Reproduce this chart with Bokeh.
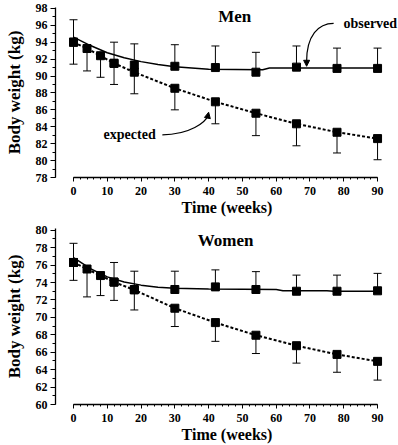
from bokeh.plotting import figure
from bokeh.layouts import column
from bokeh.models import Range1d, SingleIntervalTicker, Label, Arrow, NormalHead
from bokeh.embed import file_html
from bokeh.resources import INLINE

FONT = "Liberation Serif"

# ---------------- data ----------------
weeks_obs = [0, 12, 18, 30, 42, 54, 66, 78, 90]
weeks_exp = [0, 4, 8, 12, 18, 30, 42, 54, 66, 78, 90]

# Men
men_obs = [94.0, 91.5, 91.3, 91.15, 91.0, 90.45, 91.05, 90.9, 90.9]
men_obs_upper = [96.65, 94.0, 93.8, 93.7, 93.55, 92.8, 93.55, 93.3, 93.3]
men_exp = [94.0, 93.25, 92.4, 91.5, 90.45, 88.55, 86.95, 85.6, 84.35, 83.35, 82.6]
men_exp_lower = [91.4, 90.6, 89.85, 89.0, 87.9, 86.0, 84.35, 82.95, 81.75, 80.9, 80.1]
men_fit_weeks = [0, 5, 10, 15, 20, 25, 30, 35, 40, 56, 58, 90]
men_fit = [94.6, 93.6, 92.75, 92.15, 91.7, 91.35, 91.1, 90.95, 90.8, 90.75, 90.95, 90.95]

# Women
women_obs = [76.3, 74.05, 73.2, 73.2, 73.5, 73.2, 73.0, 73.0, 73.05]
women_obs_upper = [78.5, 76.3, 75.3, 75.3, 75.45, 75.25, 74.85, 74.85, 75.05]
women_exp = [76.3, 75.55, 74.8, 74.05, 73.15, 71.05, 69.4, 67.95, 66.75, 65.75, 64.95]
women_exp_lower = [74.25, 72.35, 72.5, 71.95, 70.85, 68.95, 67.25, 65.85, 64.75, 63.7, 62.8]
women_fit_weeks = [0, 5, 10, 15, 20, 25, 30, 40, 60, 62, 75, 77, 90]
women_fit = [76.85, 75.6, 74.65, 74.05, 73.7, 73.45, 73.35, 73.25, 73.2, 73.05, 73.05, 73.0, 73.0]

x_label = "Time (weeks)"
y_label = "Body weight (kg)"


def panel(title, y_lo, y_hi, height, border_top, border_bottom, fit_w, fit_v,
          obs_v, obs_up, exp_v, exp_lo, title_x, title_y):
    p = figure(width=398, height=height, output_backend="svg", toolbar_location=None,
               x_range=Range1d(-5.33, 96.2), y_range=Range1d(y_lo, y_hi),
               min_border_left=55, min_border_right=0,
               min_border_top=border_top, min_border_bottom=border_bottom)
    p.grid.visible = False
    p.outline_line_color = None
    p.background_fill_color = "white"
    p.border_fill_color = "white"

    # axes
    p.xaxis.ticker = SingleIntervalTicker(interval=10, num_minor_ticks=5)
    p.xaxis.bounds = (0, 90)
    p.yaxis.ticker = SingleIntervalTicker(interval=2, num_minor_ticks=2)
    for ax in (p.xaxis, p.yaxis):
        ax.axis_line_color = "black"
        ax.axis_line_width = 1.3
        ax.major_tick_line_color = "black"
        ax.minor_tick_line_color = "black"
        ax.major_tick_in = 0
        ax.minor_tick_in = 0
        ax.major_label_text_font = FONT
        ax.major_label_text_font_style = "bold"
        ax.major_label_text_font_size = "12px"
        ax.major_label_text_color = "black"
        ax.axis_label_text_font = FONT
        ax.axis_label_text_font_style = "bold"
        ax.axis_label_text_color = "black"
    p.xaxis.major_tick_out = 4
    p.xaxis.minor_tick_out = 2
    p.yaxis.major_tick_out = 5
    p.yaxis.minor_tick_out = 3
    p.xaxis.major_label_standoff = 5
    p.yaxis.major_label_standoff = 3
    p.xaxis.axis_label = x_label
    p.yaxis.axis_label = y_label
    p.xaxis.axis_label_text_font_size = "16px"
    p.yaxis.axis_label_text_font_size = "17px"
    p.xaxis.axis_label_standoff = 1
    p.yaxis.axis_label_standoff = 9

    # fitted (observed) solid curve
    p.line(fit_w, fit_v, line_color="black", line_width=1.5)
    # expected dotted curve
    p.line(weeks_exp, exp_v, line_color="black", line_width=2, line_dash="3 2")

    # error bars: observed upwards, expected downwards
    p.segment(weeks_obs, obs_v, weeks_obs, obs_up, line_color="black", line_width=1)
    p.scatter(weeks_obs, obs_up, marker="dash", size=8, line_color="black", line_width=1)
    p.segment(weeks_exp, exp_v, weeks_exp, exp_lo, line_color="black", line_width=1)
    p.scatter(weeks_exp, exp_lo, marker="dash", size=8, line_color="black", line_width=1)

    # squares
    p.scatter(weeks_exp, exp_v, marker="square", size=8, fill_color="black", line_color="black")
    p.scatter(weeks_obs, obs_v, marker="square", size=8, fill_color="black", line_color="black")

    p.add_layout(Label(x=title_x, y=title_y, text=title, text_font=FONT, text_font_style="bold",
                       text_font_size="17px", text_align="center", text_baseline="middle",
                       text_color="black"))
    return p


top = panel("Men", 78, 98.1, 218, 7, 40, men_fit_weeks, men_fit,
            men_obs, men_obs_upper, men_exp, men_exp_lower, 47.7, 97.0)

# annotations (men)
top.add_layout(Label(x=79.9, y=96.22, text="observed", text_font=FONT, text_font_style="bold",
                     text_font_size="14px", text_align="left", text_baseline="middle",
                     text_color="black"))
top.bezier(x0=[77.0], y0=[96.22], x1=[69.0], y1=[91.7], cx0=[72.5], cy0=[96.22],
           cx1=[69.0], cy1=[94.8], line_color="black", line_width=1.2)
top.add_layout(Arrow(end=NormalHead(size=6, fill_color="black", line_color="black"),
                     x_start=69.0, y_start=91.75, x_end=69.0, y_end=91.15,
                     line_color="black", line_width=1.2))

top.add_layout(Label(x=8.9, y=83.05, text="expected", text_font=FONT, text_font_style="bold",
                     text_font_size="14px", text_align="left", text_baseline="middle",
                     text_color="black"))
top.bezier(x0=[26.3], y0=[83.05], x1=[39.8], y1=[85.3], cx0=[34.6], cy0=[83.05],
           cx1=[39.1], cy1=[84.58], line_color="black", line_width=1.2)
top.add_layout(Arrow(end=NormalHead(size=6, fill_color="black", line_color="black"),
                     x_start=39.75, y_start=85.25, x_end=40.0, y_end=85.72,
                     line_color="black", line_width=1.2))

bottom = panel("Women", 60, 80.2, 227, 10, 40, women_fit_weeks, women_fit,
               women_obs, women_obs_upper, women_exp, women_exp_lower, 45.0, 78.83)

layout = column(top, bottom, spacing=0)
open("out.html", "w").write(file_html(layout, INLINE))
